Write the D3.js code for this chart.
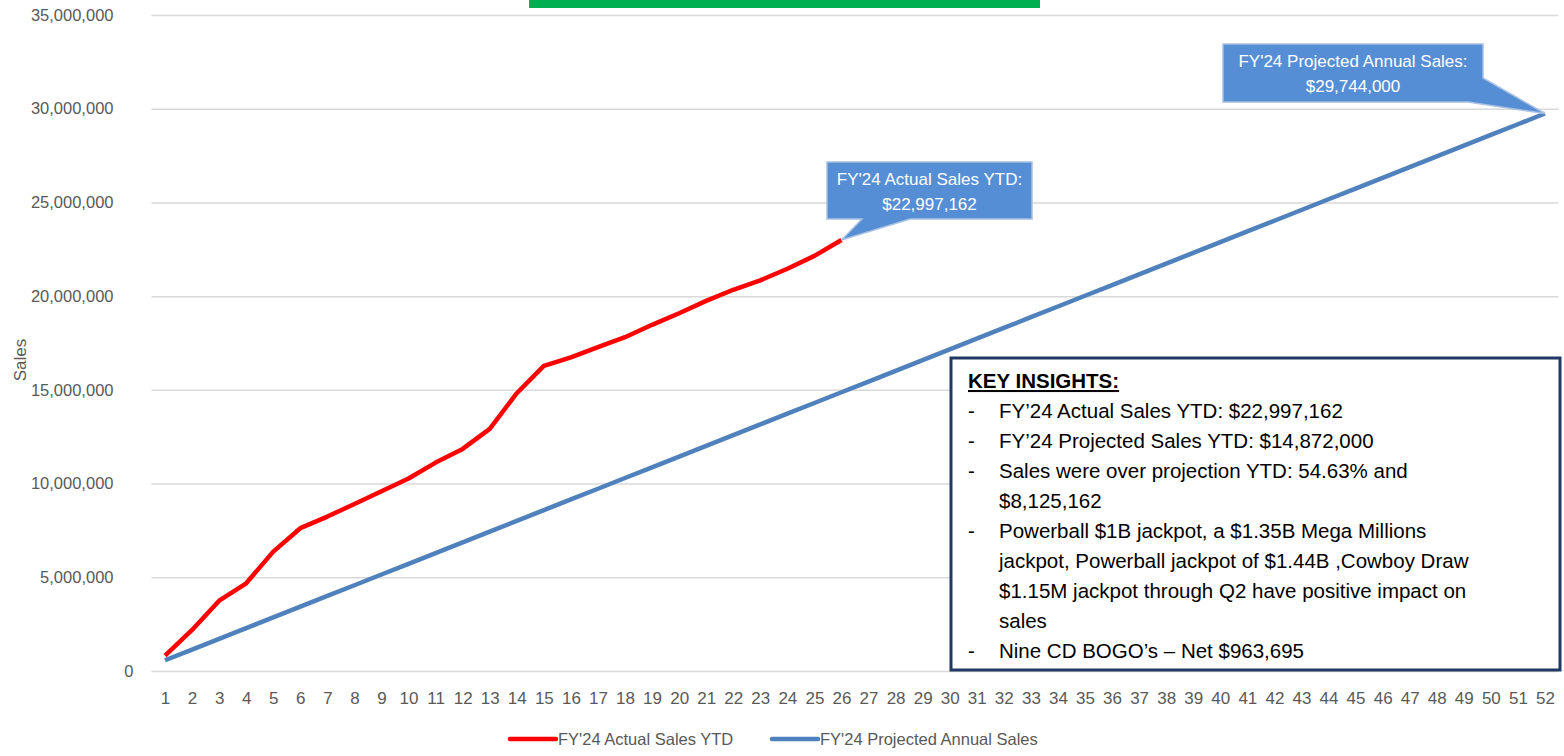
<!DOCTYPE html>
<html>
<head>
<meta charset="utf-8">
<script src="https://cdn.jsdelivr.net/npm/d3@7"></script>
<style>
  body { margin: 0; background: #fff; }
  svg { display: block; font-family: "Liberation Sans", Arial, sans-serif; }
</style>
</head>
<body>
<script>
// weeks of the fiscal year
var weeks = [1, 2, 3, 4, 5, 6, 7, 8, 9, 10, 11, 12, 13, 14, 15, 16, 17, 18, 19, 20,
  21, 22, 23, 24, 25, 26, 27, 28, 29, 30, 31, 32, 33, 34, 35, 36, 37, 38, 39, 40,
  41, 42, 43, 44, 45, 46, 47, 48, 49, 50, 51, 52];

// cumulative actual sales (last one from the callout)
var actualSales = [820000, 2190000, 3750000, 4680000, 6370000, 7620000, 8240000, 8910000,
  9590000, 10270000, 11120000, 11850000, 12920000, 14820000, 16280000, 16730000, 17280000,
  17810000, 18470000, 19090000, 19750000, 20340000, 20840000, 21460000, 22150000, 22997162];

// cumulative projected sales
var projectedSales = [572000, 1144000, 1716000, 2288000, 2860000, 3432000, 4004000, 4576000,
  5148000, 5720000, 6292000, 6864000, 7436000, 8008000, 8580000, 9152000, 9724000, 10296000,
  10868000, 11440000, 12012000, 12584000, 13156000, 13728000, 14300000, 14872000, 15444000,
  16016000, 16588000, 17160000, 17732000, 18304000, 18876000, 19448000, 20020000, 20592000,
  21164000, 21736000, 22308000, 22880000, 23452000, 24024000, 24596000, 25168000, 25740000,
  26312000, 26884000, 27456000, 28028000, 28600000, 29172000, 29744000];

var yTicks = [0, 5000000, 10000000, 15000000, 20000000, 25000000, 30000000, 35000000];

var seriesNames = ["FY'24 Actual Sales YTD", "FY'24 Projected Annual Sales"];

var insights = [
  "FY\u201924 Actual Sales YTD: $22,997,162",
  "FY\u201924 Projected Sales YTD: $14,872,000",
  "Sales were over projection YTD: 54.63% and",
  "$8,125,162",
  "Powerball $1B jackpot, a $1.35B Mega Millions",
  "jackpot, Powerball jackpot of $1.44B ,Cowboy Draw",
  "$1.15M jackpot through Q2 have positive impact on",
  "sales",
  "Nine CD BOGO\u2019s \u2013 Net $963,695"
];
var bulletStart = [true, true, true, false, true, false, false, false, true];

var W = 1564, H = 756;
var plot = {left: 151.5, right: 1558.5, top: 15, bottom: 671};

var svg = d3.select("body").append("svg")
    .attr("width", W)
    .attr("height", H);

var x = d3.scalePoint()
    .domain(weeks)
    .range([plot.left, plot.right])
    .padding(0.5);

var y = d3.scaleLinear()
    .domain([0, 35000000])
    .range([plot.bottom, plot.top]);

// green header block (cut off at the top)
svg.append("rect")
    .attr("x", 529).attr("y", -20)
    .attr("width", 511).attr("height", 28)
    .attr("fill", "#00B050");

// y axis + gridlines
var yAxis = svg.append("g")
    .attr("transform", "translate(" + plot.left + ",0)")
    .call(d3.axisLeft(y)
      .tickValues(yTicks)
      .tickSize(-(plot.right - plot.left))
      .tickPadding(38)
      .tickFormat(d3.format(",")));
yAxis.select(".domain").remove();
yAxis.selectAll(".tick line")
    .attr("stroke", "#D9D9D9")
    .attr("stroke-width", 1.5);
yAxis.selectAll(".tick text")
    .attr("fill", "#595959")
    .attr("font-size", 16.5)
    .attr("font-family", "Liberation Sans, Arial, sans-serif")
    .attr("dx", function(d) { return d === 0 ? 20 : 0; });

// x axis labels
var xAxis = svg.append("g")
    .attr("transform", "translate(0," + plot.bottom + ")")
    .call(d3.axisBottom(x).tickSize(0).tickPadding(21));
xAxis.select(".domain").remove();
xAxis.selectAll(".tick text")
    .attr("fill", "#595959")
    .attr("font-size", 17)
    .attr("font-family", "Liberation Sans, Arial, sans-serif");

// y title
svg.append("text")
    .attr("transform", "translate(26," + ((plot.top + plot.bottom) / 2 + 17) + ") rotate(-90)")
    .attr("text-anchor", "middle")
    .attr("fill", "#595959")
    .attr("font-size", 17)
    .text("Sales");

var line = d3.line()
    .x(function(d, i) { return x(weeks[i]); })
    .y(function(d) { return y(d); });

svg.append("path")
    .datum(projectedSales)
    .attr("fill", "none")
    .attr("stroke", "#4F81BD")
    .attr("stroke-width", 4.5)
    .attr("stroke-linejoin", "round")
    .attr("d", line);

svg.append("path")
    .datum(actualSales)
    .attr("fill", "none")
    .attr("stroke", "#FF0000")
    .attr("stroke-width", 4.5)
    .attr("stroke-linejoin", "round")
    .attr("d", line);

// callouts
function callout(box, tip, pathFn, lines) {
  svg.append("path")
      .attr("d", pathFn(box, tip))
      .attr("fill", "#558ED5")
      .attr("stroke", "#A9C1E2")
      .attr("stroke-width", 1.5);
  svg.append("text")
      .attr("x", (box.x0 + box.x1) / 2)
      .attr("y", box.y0 + 23)
      .attr("text-anchor", "middle")
      .attr("fill", "#fff")
      .attr("font-size", 17)
      .selectAll("tspan")
      .data(lines)
      .enter().append("tspan")
      .attr("x", (box.x0 + box.x1) / 2)
      .attr("dy", function(d, i) { return i ? 25 : 0; })
      .text(function(d) { return d; });
}

var lastActual = actualSales.length - 1;
callout({x0: 827, y0: 162, x1: 1032, y1: 219},
  [x(weeks[lastActual]), y(actualSales[lastActual])],
  function(b, t) {
    return "M" + b.x0 + "," + b.y0 + "H" + b.x1 + "V" + b.y1 + "H910L" + t[0] + "," + t[1] +
      "L862," + b.y1 + "H" + b.x0 + "Z";
  },
  ["FY'24 Actual Sales YTD:", "$" + d3.format(",")(actualSales[lastActual])]);

var lastProj = projectedSales.length - 1;
callout({x0: 1223, y0: 44, x1: 1483, y1: 102},
  [x(weeks[lastProj]), y(projectedSales[lastProj])],
  function(b, t) {
    return "M" + b.x0 + "," + b.y0 + "H" + b.x1 + "V78L" + t[0] + "," + t[1] +
      "L1468," + b.y1 + "H" + b.x0 + "Z";
  },
  ["FY'24 Projected Annual Sales:", "$" + d3.format(",")(projectedSales[lastProj])]);

// key insights box
var ib = svg.append("g");
ib.append("rect")
    .attr("x", 951).attr("y", 358)
    .attr("width", 609).attr("height", 312)
    .attr("fill", "#fff")
    .attr("stroke", "#1F3864")
    .attr("stroke-width", 3);
ib.append("text")
    .attr("x", 968).attr("y", 388)
    .attr("font-size", 20.5)
    .attr("font-weight", "bold")
    .attr("text-decoration", "underline")
    .attr("fill", "#000")
    .text("KEY INSIGHTS:");
insights.forEach(function(t, i) {
  var by = 418 + i * 30;
  if (bulletStart[i]) {
    ib.append("text").attr("x", 968).attr("y", by)
      .attr("font-size", 20.5).attr("fill", "#000").text("-");
  }
  ib.append("text").attr("x", 999).attr("y", by)
    .attr("font-size", 20.5).attr("fill", "#000").text(t);
});

// legend
var legendItems = [
  {name: seriesNames[0], color: "#FF0000", x: 510},
  {name: seriesNames[1], color: "#4F81BD", x: 772}
];
var lg = svg.append("g").selectAll("g")
    .data(legendItems)
    .enter().append("g")
    .attr("transform", function(d) { return "translate(" + d.x + ",739)"; });
lg.append("line")
    .attr("x1", 0).attr("x2", 46)
    .attr("stroke", function(d) { return d.color; })
    .attr("stroke-width", 4.5)
    .attr("stroke-linecap", "round");
lg.append("text")
    .attr("x", 48).attr("y", 6)
    .attr("fill", "#595959")
    .attr("font-size", 16.5)
    .text(function(d) { return d.name; });
</script>
</body>
</html>
